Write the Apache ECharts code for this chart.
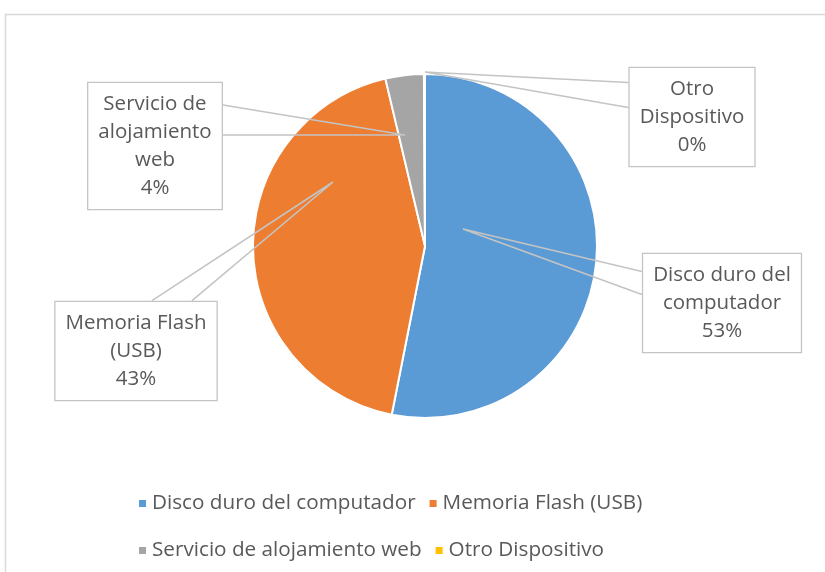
<!DOCTYPE html>
<html>
<head>
<meta charset="utf-8">
<script src="https://cdn.jsdelivr.net/npm/echarts@6/dist/echarts.min.js"></script>
<style>
  html, body { margin: 0; padding: 0; background: #fff; }
  #chart { width: 825px; height: 572px; }
</style>
</head>
<body>
<div id="chart"></div>
<script>
// datos
const categories = ['Disco duro del computador', 'Memoria Flash (USB)', 'Servicio de alojamiento web', 'Otro Dispositivo']
const labelNames = ['Disco duro del\ncomputador', 'Memoria Flash\n(USB)', 'Servicio de\nalojamiento\nweb', 'Otro\nDispositivo']
const values = [53.1, 43.2, 3.6, 0.1]
const colors = ['#5b9bd5', '#ed7d31', '#a5a5a5', '#ffc000']

// cajas de etiqueta: centro de la caja, punta del conector (relativa al centro del pie)
// y base de la cuna [lado, desplazamiento, media anchura]
const center = [425, 246]
const labelBoxes = [[722, 303], [136, 351], [155, 146], [692, 117]]
const tipOffsets = [[38, -17], [-92, -64], [-20, -111], [0, -174]]
const wedgeBases = [['left', -20, 11.5], ['top', 36, 20], ['right', -26, 15], ['left', -22, 12.5]]
const FONT = 'Open Sans'

const chart = echarts.init(document.getElementById('chart'))

function wedge(params) {
  const i = params.dataIndex
  const tip = [center[0] + tipOffsets[i][0], center[1] + tipOffsets[i][1]]
  const box = labelBoxes[i]
  const w = params.labelRect.width / 2
  const h = params.labelRect.height / 2
  const [side, off, half] = wedgeBases[i]
  let a, b
  if (side === 'left' || side === 'right') {
    const sx = box[0] + (side === 'left' ? -w : w)
    a = [sx, box[1] + off - half]
    b = [sx, box[1] + off + half]
  } else {
    const sy = box[1] + (side === 'top' ? -h : h)
    a = [box[0] + off - half, sy]
    b = [box[0] + off + half, sy]
  }
  return {
    x: box[0],
    y: box[1],
    align: 'center',
    verticalAlign: 'middle',
    labelLinePoints: [a, tip, b]
  }
}

const pieData = categories.map((name, i) => ({ name: name, value: values[i] }))

chart.setOption({
  animation: false,
  color: colors,
  textStyle: { fontFamily: FONT },
  graphic: [{
    type: 'rect',
    shape: { x: 5.5, y: 14.5, width: 900, height: 700 },
    style: { fill: 'none', stroke: '#d9d9d9', lineWidth: 1.5 },
    silent: true
  }],
  legend: {
    left: 132,
    top: 481,
    width: 570,
    icon: 'rect',
    itemWidth: 9,
    itemHeight: 9,
    itemGap: 12,
    textStyle: { color: '#595959', fontSize: 20.7, lineHeight: 35, fontFamily: FONT },
    data: categories
  },
  series: [
    {
      // sectores
      type: 'pie',
      center: center,
      radius: 172,
      startAngle: 90,
      clockwise: true,
      itemStyle: { borderColor: '#fff', borderWidth: 2 },
      label: { show: false },
      labelLine: { show: false },
      data: pieData
    },
    {
      // etiquetas con conector, encima de los sectores
      type: 'pie',
      z: 5,
      center: center,
      radius: 172,
      startAngle: 90,
      clockwise: true,
      silent: true,
      avoidLabelOverlap: false,
      percentPrecision: 0,
      itemStyle: { color: 'rgba(0,0,0,0)', borderWidth: 0 },
      label: {
        show: true,
        position: 'outside',
        formatter: p => labelNames[p.dataIndex] + '\n' + p.percent + '%',
        color: '#595959',
        fontFamily: FONT,
        fontSize: 20.5,
        lineHeight: 28,
        align: 'center',
        backgroundColor: '#fff',
        borderColor: '#c4c4c4',
        borderWidth: 1.3,
        padding: [7, 10]
      },
      labelLine: {
        show: true,
        lineStyle: { color: '#c4c4c4', width: 1.6 }
      },
      labelLayout: wedge,
      data: pieData
    }
  ]
})
</script>
</body>
</html>
